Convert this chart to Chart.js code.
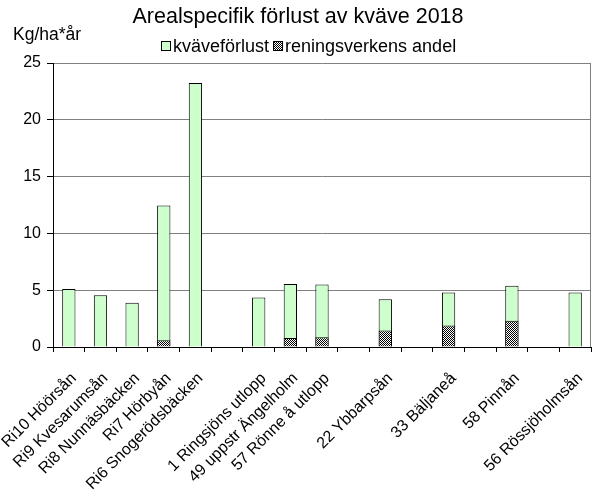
<!DOCTYPE html>
<html>
<head>
<meta charset="utf-8">
<script src="https://cdn.jsdelivr.net/npm/chart.js@4.4.0/dist/chart.umd.min.js"></script>
<style>
  body { margin: 0; background: #fff; }
  #wrap { position: relative; width: 594px; height: 501px; }
</style>
</head>
<body>
<div id="wrap"><canvas id="chart"></canvas></div>
<script>
const TITLE = 'Arealspecifik förlust av kväve 2018';
const Y_UNIT = 'Kg/ha*år';

const categories = ['Ri10 Höörsån', 'Ri9 Kvesarumsån', 'Ri8 Nunnäsbäcken', 'Ri7 Hörbyån', 'Ri6 Snogerödsbäcken', '',
  '1 Ringsjöns utlopp', '49 uppstr Ängelholm', '57 Rönne å utlopp', '', '22 Ybbarpsån', '', '33 Bäljaneå', '',
  '58 Pinnån', '', '56 Rössjöholmsån'];
const kvaveforlust = [5.1, 4.55, 3.9, 12.45, 23.25, null, 4.35, 5.55, 5.5, null, 4.2, null, 4.8, null, 5.4, null, 4.8];
const reningsverk = [null, null, null, 0.6, null, null, null, 0.8, 0.85, null, 1.45, null, 1.9, null, 2.3, null, null];
const yTicks = [0, 5, 10, 15, 20, 25];

const FONT = '"Liberation Sans", Arial, sans-serif';
Chart.defaults.font.family = FONT;
Chart.defaults.color = '#000';

// fine checker pattern for the treatment plant share
function makeHatch() {
  const c = document.createElement('canvas');
  c.width = 2; c.height = 2;
  const g = c.getContext('2d');
  g.fillStyle = '#fff';
  g.fillRect(0, 0, 2, 2);
  g.fillStyle = '#000';
  g.fillRect(0, 0, 1, 1);
  g.fillRect(1, 1, 1, 1);
  return g.createPattern(c, 'repeat');
}
const hatch = makeHatch();

// title, unit label, legend and right frame line
const decorations = {
  id: 'decorations',
  afterDraw(chart) {
    const ctx = chart.ctx;
    const area = chart.chartArea;
    ctx.save();
    ctx.strokeStyle = '#808080';
    ctx.lineWidth = 1;
    ctx.beginPath();
    ctx.moveTo(Math.round(area.right) - 0.5, area.top);
    ctx.lineTo(Math.round(area.right) - 0.5, area.bottom);
    ctx.stroke();

    ctx.fillStyle = '#000';
    ctx.textBaseline = 'middle';
    ctx.textAlign = 'center';
    ctx.font = '21.5px ' + FONT;
    ctx.fillText(TITLE, 298, 17);

    ctx.textAlign = 'left';
    ctx.font = '17.5px ' + FONT;
    ctx.fillText(Y_UNIT, 13, 35);

    // legend: total first, then the share
    ctx.font = '18px ' + FONT;
    const items = [chart.data.datasets[1], chart.data.datasets[0]];
    const box = 10, gap = 2, between = 4;
    let x = 161;
    const y = 46;
    items.forEach(ds => {
      ctx.fillStyle = ds.backgroundColor;
      ctx.fillRect(x, y - 5, box, box);
      ctx.strokeStyle = '#000';
      ctx.strokeRect(x + 0.5, y - 4.5, box - 1, box - 1);
      ctx.fillStyle = '#000';
      ctx.fillText(ds.label, x + box + gap, y + 1);
      x += box + gap + ctx.measureText(ds.label).width + between;
    });
    ctx.restore();
  }
};

new Chart(document.getElementById('chart'), {
  type: 'bar',
  data: {
    labels: categories,
    datasets: [
      {
        label: 'reningsverkens andel',
        data: reningsverk,
        backgroundColor: hatch,
        borderColor: '#000',
        borderWidth: 1,
        grouped: false,
        barPercentage: 0.42,
        categoryPercentage: 1
      },
      {
        label: 'kväveförlust',
        data: kvaveforlust,
        backgroundColor: '#CCFFCC',
        borderColor: '#000',
        borderWidth: 1,
        grouped: false,
        barPercentage: 0.42,
        categoryPercentage: 1
      }
    ]
  },
  options: {
    responsive: true,
    maintainAspectRatio: false,
    animation: false,
    layout: { padding: { top: 63, right: 3, left: 0, bottom: 0 } },
    plugins: {
      legend: { display: false },
      title: { display: false },
      tooltip: { enabled: false }
    },
    scales: {
      x: {
        offset: true,
        grid: { display: true, drawOnChartArea: false, offset: true, tickLength: 5, tickColor: '#000' },
        border: { color: '#000', width: 1 },
        ticks: { autoSkip: false, maxRotation: 45, minRotation: 45, font: { size: 16 }, color: '#000', padding: 17, labelOffset: 5 },
        afterFit: s => { s.height = 154; s.paddingLeft = 0; s.paddingRight = 0; }
      },
      y: {
        min: 0,
        max: 25,
        afterBuildTicks: s => { s.ticks = yTicks.map(v => ({ value: v })); },
        grid: { color: '#808080', lineWidth: 1, tickLength: 6, tickColor: '#000' },
        border: { color: '#000', width: 1 },
        ticks: { font: { size: 16 }, color: '#000', padding: 6 },
        afterFit: s => { s.width = 53; }
      }
    }
  },
  plugins: [decorations]
});
</script>
</body>
</html>
